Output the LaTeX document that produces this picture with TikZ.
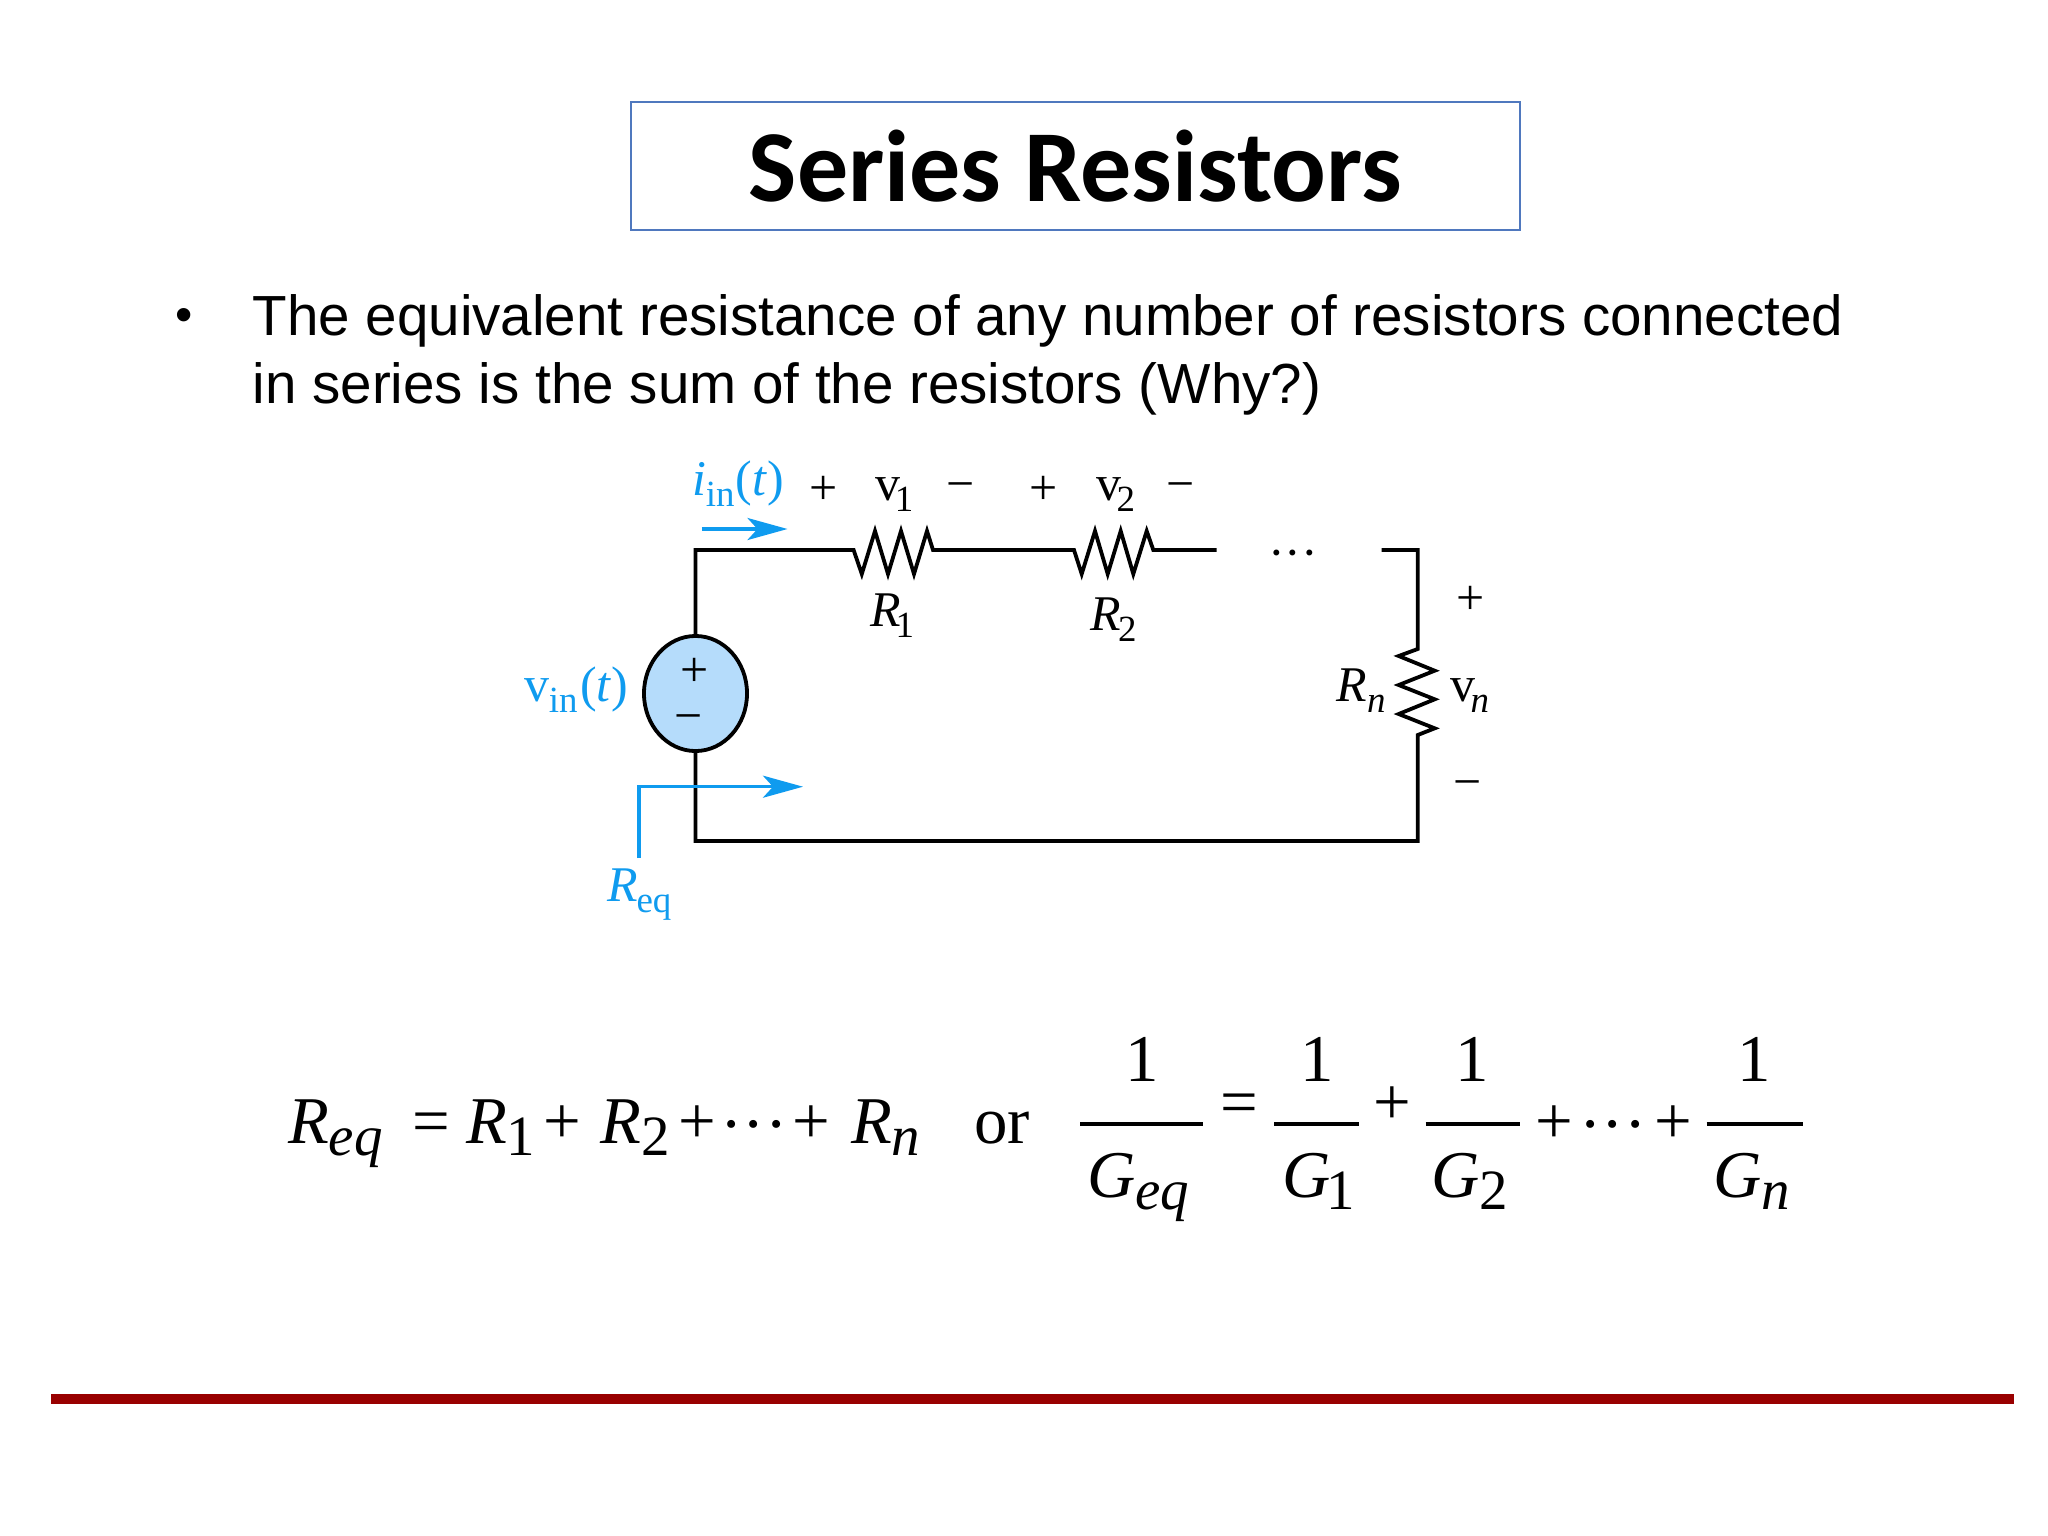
\documentclass[tikz,border=0pt]{standalone}
\usepackage{fontspec}
\setmainfont{Liberation Serif}
\newfontfamily\titlefont{Carlito}
\newfontfamily\bodyfont{Liberation Sans}
\usetikzlibrary{arrows.meta,shapes.geometric}
\definecolor{boxblue}{HTML}{4F78BE}
\definecolor{cirblue}{HTML}{0F9BEF}
\definecolor{srcfill}{HTML}{B5DCFB}
\definecolor{barred}{HTML}{990000}
\newcommand{\cirsize}{\fontsize{14.2pt}{16pt}\selectfont}
\newcommand{\eqsize}{\fontsize{19pt}{22pt}\selectfont}
\newcommand{\csub}[1]{\raisebox{-0.11cm}{\fontsize{10.5pt}{12pt}\selectfont #1}}
\newcommand{\esub}[1]{\raisebox{-0.12cm}{\fontsize{16.2pt}{18pt}\selectfont #1}}
\newcommand{\edots}{\textperiodcentered\textperiodcentered\textperiodcentered}
\tikzset{
  wire/.style={line width=0.038cm,black,line join=miter},
  bluewire/.style={line width=0.035cm,cirblue,line join=miter,
    -{Stealth[length=0.40cm,width=0.22cm,inset=0.10cm]}},
  cirlabel/.style={anchor=base west,inner sep=0pt,outer sep=0pt,font=\cirsize},
  bluelabel/.style={cirlabel,text=cirblue},
  sign/.style={anchor=base,inner sep=0pt,outer sep=0pt,font=\cirsize},
  eqtext/.style={anchor=base west,inner sep=0pt,outer sep=0pt,font=\eqsize},
  eqsign/.style={anchor=base,inner sep=0pt,outer sep=0pt,font=\eqsize},
  fracbar/.style={line width=0.045cm,black},
}
\begin{document}
\begin{tikzpicture}[x=0.01cm,y=-0.01cm]
\useasboundingbox[fill=white] (0,0) rectangle (2048,1536);
% title
\node[draw=boxblue,line width=0.02cm,minimum width=8.89cm,minimum height=1.28cm,inner sep=0pt,
  font=\titlefont\bfseries\fontsize{29pt}{32pt}\selectfont] (title) at (1075.5,166) {\raisebox{-0.03cm}{Series Resistors}};
% body
\node[anchor=base,inner sep=0pt,font=\bodyfont\fontsize{14pt}{19pt}\selectfont] (bullet) at (184,331) {•};
\node[anchor=north west,inner sep=0pt,align=left,font=\bodyfont\fontsize{16.08pt}{19.35pt}\selectfont] (body) at (252,293.5)
  {The equivalent resistance of any number of resistors connected\\in series is the sum of the resistors (Why?)};
% circuit
\node[ellipse,draw,line width=0.038cm,fill=srcfill,minimum width=1.03cm,minimum height=1.15cm,inner sep=0pt] (vs) at (695.5,693.5) {};
\coordinate (tl) at (695.5,550);
\coordinate (bl) at (695.5,841);
\coordinate (br) at (1417.7,841);
\coordinate (tr) at (1417.7,550);
\coordinate (r1a) at (853.6,550);
\coordinate (r1b) at (933,550);
\coordinate (r2a) at (1074,550);
\coordinate (r2b) at (1153.3,550);
\coordinate (open1) at (1216.7,550);
\coordinate (open2) at (1381.7,550);
\coordinate (rna) at (1417.7,649);
\coordinate (rnb) at (1417.7,735);
\draw[wire] (vs.north) -- (tl) -- (r1a) -- ++(8.2,24) -- ++(13.2,-43) -- ++(13,43) -- ++(13,-43) -- ++(13,43) -- ++(13,-43) -- (r1b) -- (r2a)
  -- ++(7.7,24) -- ++(13.3,-43) -- ++(12.7,43) -- ++(13,-43) -- ++(12.6,43) -- ++(13.4,-43) -- (r2b) -- (open1);
\draw[wire] (open2) -- (tr) -- (rna) -- ++(-19,7) -- ++(36,14.7) -- ++(-36,14.3) -- ++(36,14.3) -- ++(-36,14.7) -- ++(36,14.3) -- (rnb) -- (br) -- (bl) -- (vs.south);
% blue arrows
\coordinate (ia) at (701.8,529);
\coordinate (ib) at (787.5,529);
\coordinate (ra) at (639,858);
\coordinate (rc) at (639,786.7);
\coordinate (rb) at (803,786.7);
\draw[bluewire] (ia) -- (ib);
\draw[bluewire] (ra) -- (rc) -- (rb);
% circuit labels
\node[bluelabel] (iin) at (692.9,495) {\textit{i}\kern-0.01cm\csub{in}\kern0.01cm(\textit{t})};
\node[bluelabel] (vin) at (524,701.7) {v\csub{in}\kern0.025cm(\textit{t})};
\node[bluelabel] (req) at (607,901.7) {\textit{R}\kern-0.01cm\csub{eq}};
\node[sign] (p1) at (824,504) {+};
\node[cirlabel] (v1) at (875,500) {v\kern-0.05cm\csub{1}};
\node[sign] (m1) at (961,500) {−};
\node[sign] (p2) at (1043.6,504) {+};
\node[cirlabel] (v2) at (1096.7,500) {v\kern-0.05cm\csub{2}};
\node[sign] (m2) at (1180.5,500) {−};
\node[cirlabel] (r1) at (870,626.7) {\textit{R}\kern-0.05cm\csub{1}};
\node[cirlabel] (r2) at (1090.7,630) {\textit{R}\kern-0.03cm\csub{2}};
\node[sign] (dots) at (1293,569) {\edots};
\node[sign] (p3) at (1470.7,614) {+};
\node[cirlabel] (rn) at (1336.7,701.7) {\textit{R}\csub{\textit{n}}};
\node[cirlabel] (vn) at (1450.7,701.7) {v\kern-0.05cm\csub{\textit{n}}};
\node[sign] (m3) at (1467.5,798) {−};
\node[sign] (vsp) at (694.6,686) {+};
\node[sign] (vsm) at (689,732) {−};
% equation 1
\node[eqtext] (e1) at (288,1143) {\textit{R}\esub{\textit{eq}}};
\node[eqsign] (e2) at (431,1143) {=};
\node[eqtext] (e3) at (466,1143) {\textit{R}\esub{1}};
\node[eqsign] (e4) at (562,1143) {+};
\node[eqtext] (e5) at (600.5,1143) {\textit{R}\esub{2}};
\node[eqsign] (e6) at (697,1143) {+};
\node[eqsign] (e7) at (754,1146) {\edots};
\node[eqsign] (e8) at (811,1143) {+};
\node[eqtext] (e9) at (851,1143) {\textit{R}\esub{\textit{n}}};
\node[eqtext] (or) at (974,1143) {or};
% fractions
\node[eqsign] (n0) at (1142,1081) {1};
\coordinate (b0a) at (1080,1124); \coordinate (b0b) at (1203,1124);
\draw[fracbar] (b0a) -- (b0b);
\node[eqtext] (d0) at (1087,1197) {\textit{G}\esub{\textit{eq}}};
\node[eqsign] (eq) at (1239,1124) {=};
\node[eqsign] (n1) at (1317,1081) {1};
\coordinate (b1a) at (1274,1124); \coordinate (b1b) at (1358.5,1124);
\draw[fracbar] (b1a) -- (b1b);
\node[eqtext] (d1) at (1282,1197) {\textit{G}\kern-0.04cm\esub{1}};
\node[eqsign] (pl1) at (1392,1124) {+};
\node[eqsign] (n2) at (1472,1081) {1};
\coordinate (b2a) at (1425.7,1124); \coordinate (b2b) at (1520,1124);
\draw[fracbar] (b2a) -- (b2b);
\node[eqtext] (d2) at (1431,1197) {\textit{G}\esub{2}};
\node[eqsign] (pl2) at (1554,1143) {+};
\node[eqsign] (dts) at (1613,1146) {\edots};
\node[eqsign] (pl3) at (1673.5,1143) {+};
\node[eqsign] (n3) at (1754.5,1081) {1};
\coordinate (b3a) at (1706.7,1124); \coordinate (b3b) at (1802.8,1124);
\draw[fracbar] (b3a) -- (b3b);
\node[eqtext] (d3) at (1713.7,1197) {\textit{G}\esub{\textit{n}}};
% footer rule
\coordinate (fa) at (51,1399); \coordinate (fb) at (2014,1399);
\draw[line width=0.1cm,barred] (fa) -- (fb);
\end{tikzpicture}
\end{document}
